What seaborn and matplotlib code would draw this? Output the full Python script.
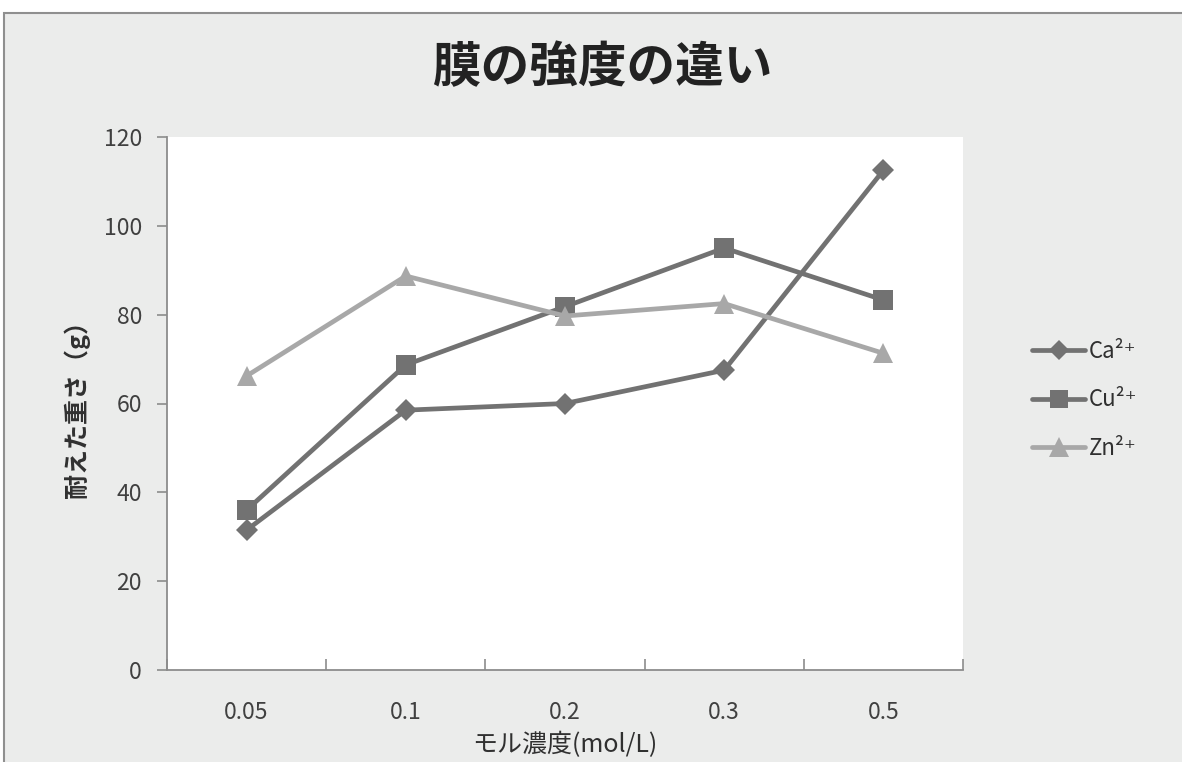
import matplotlib
matplotlib.use("Agg")
import matplotlib.pyplot as plt
from matplotlib.patches import Rectangle
from matplotlib.lines import Line2D
import seaborn as sns
import pandas as pd

concentrations = ["0.05", "0.1", "0.2", "0.3", "0.5"]
ca_values = [31.5, 58.5, 60.0, 67.5, 112.5]
cu_values = [36.0, 68.7, 81.8, 95.0, 83.3]
zn_values = [66.2, 88.7, 79.7, 82.5, 71.3]
series_names = ["Ca²⁺", "Cu²⁺", "Zn²⁺"]
y_ticks = [0, 20, 40, 60, 80, 100, 120]

sns.set_theme(style="white")
FONT = ["Noto Sans CJK JP", "DejaVu Sans"]
plt.rcParams["font.family"] = FONT

fig = plt.figure(figsize=(11.82, 7.62), dpi=100, facecolor="white")
fig.patches.append(Rectangle((4 / 1182, -0.05), 1.2, 1 - 13 / 762 + 0.05,
                             transform=fig.transFigure, facecolor="#ebeceb",
                             edgecolor="#8f8f8f", lw=1.5, zorder=-5))

ax = fig.add_axes([167 / 1182, 1 - 670 / 762, (963 - 167) / 1182, (670 - 137) / 762])
ax.set_facecolor("white")

styles = [
    dict(color="#727272", marker="D", markersize=11),
    dict(color="#727272", marker="s", markersize=14),
    dict(color="#a8a8a8", marker="^", markersize=15),
]
handles = []
for name, vals, st in zip(series_names, [ca_values, cu_values, zn_values], styles):
    df = pd.DataFrame({"x": list(range(len(concentrations))), "y": vals})
    sns.lineplot(data=df, x="x", y="y", ax=ax, color=st["color"], lw=3.4,
                 marker=st["marker"], markersize=st["markersize"],
                 markeredgewidth=0, markerfacecolor=st["color"], legend=False)
    handles.append(Line2D([], [], color=st["color"], lw=3.4, marker=st["marker"],
                          markersize=st["markersize"] * 0.95, markeredgewidth=0,
                          markerfacecolor=st["color"], label=name))

ax.set_xlim(-0.5, len(concentrations) - 0.5)
ax.set_ylim(0, 120)
ax.set_yticks(y_ticks)
ax.set_yticklabels([str(v) for v in y_ticks])
ax.set_xticks(range(len(concentrations)))
ax.set_xticklabels(concentrations)
ax.set_xticks([i - 0.5 for i in range(len(concentrations) + 1)], minor=True)

for s in ["top", "right"]:
    ax.spines[s].set_visible(False)
for s in ["left", "bottom"]:
    ax.spines[s].set_color("#8c8c8c")
    ax.spines[s].set_linewidth(1.3)

ax.tick_params(axis="y", which="major", direction="out", length=7, width=1.2,
               color="#8c8c8c", labelsize=16.5, labelcolor="#404040", pad=11, left=True)
ax.tick_params(axis="x", which="major", length=0, labelsize=16.5, labelcolor="#404040", pad=22)
ax.tick_params(axis="x", which="minor", direction="in", length=8, width=1.2,
               color="#8c8c8c", bottom=True)

ax.set_xlabel("モル濃度(mol/L)", fontsize=18, color="#303030")
ax.xaxis.set_label_coords(0.5, -0.141)
ax.xaxis.label.set_va("center")
ax.set_ylabel("耐えた重さ（g）", fontsize=18, fontweight="bold", color="#303030")
ax.yaxis.set_label_coords(-0.113, 0.5)
ax.yaxis.label.set_va("center")

fig.text(602 / 1182, 1 - 68 / 762, "膜の強度の違い", ha="center", va="center",
         fontsize=35, fontweight="bold", color="#222222")

leg = fig.legend(handles=handles, loc="center left",
                 bbox_to_anchor=(1012 / 1182, 1 - 400 / 762), frameon=False,
                 fontsize=16, handlelength=2.4, handletextpad=0.15,
                 labelspacing=1.15, labelcolor="#303030")

fig.savefig("out.png", dpi=100, facecolor=fig.get_facecolor())
